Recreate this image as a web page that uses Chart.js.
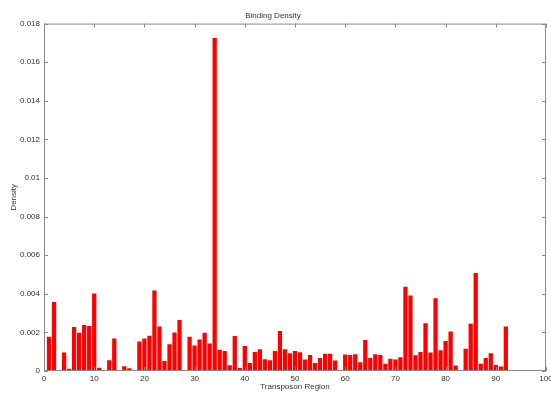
<!DOCTYPE html>
<html lang="en">
<head>
    <meta charset="UTF-8">
    <title>Binding Density</title>
    <script src="https://cdn.jsdelivr.net/npm/chart.js"></script>
    <style>
        html, body { margin: 0; padding: 0; background: #fff; }
        #chart-container { width: 551px; height: 394px; }
    </style>
</head>
<body>
    <div id="chart-container">
        <canvas id="densityChart" width="551" height="394"></canvas>
    </div>

    <script>
        // Transposon region positions
        const regions = [
            1, 2, 3, 4, 5, 6, 7, 8, 9, 10,
            11, 12, 13, 14, 15, 16, 17, 18, 19, 20,
            21, 22, 23, 24, 25, 26, 27, 28, 29, 30,
            31, 32, 33, 34, 35, 36, 37, 38, 39, 40,
            41, 42, 43, 44, 45, 46, 47, 48, 49, 50,
            51, 52, 53, 54, 55, 56, 57, 58, 59, 60,
            61, 62, 63, 64, 65, 66, 67, 68, 69, 70,
            71, 72, 73, 74, 75, 76, 77, 78, 79, 80,
            81, 82, 83, 84, 85, 86, 87, 88, 89, 90,
            91, 92
        ];

        // Binding density per region
        const density = [
            0.00177, 0.00357, 0, 0.00096, 0.00012, 0.00228, 0.00198, 0.00238, 0.00233, 0.00402,
            0.00017, 0, 0.00056, 0.00169, 0, 0.00024, 0.00014, 0, 0.00153, 0.00169,
            0.00183, 0.00417, 0.0023, 0.00052, 0.00139, 0.002, 0.00264, 0, 0.00177, 0.00132,
            0.00163, 0.00198, 0.00143, 0.01725, 0.0011, 0.00104, 0.0003, 0.00181, 0.00016, 0.00129,
            0.00042, 0.00099, 0.00113, 0.00061, 0.00056, 0.00104, 0.00207, 0.00113, 0.00092, 0.00103,
            0.00097, 0.00059, 0.00083, 0.00042, 0.00068, 0.0009, 0.0009, 0.00054, 0, 0.00085,
            0.00083, 0.00087, 0.00045, 0.0016, 0.00068, 0.00087, 0.00083, 0.00038, 0.00064, 0.00059,
            0.00071, 0.00437, 0.00391, 0.00082, 0.00099, 0.00247, 0.00096, 0.00377, 0.00108, 0.00155,
            0.00205, 0.00028, 0, 0.00115, 0.00245, 0.00508, 0.00037, 0.00068, 0.00092, 0.00031,
            0.00023, 0.00231
        ];

        const xTicks = [0, 10, 20, 30, 40, 50, 60, 70, 80, 90, 100];
        const yTicks = [0, 0.002, 0.004, 0.006, 0.008, 0.01, 0.012, 0.014, 0.016, 0.018];

        const font = { family: "'Liberation Sans', Arial, sans-serif", size: 8 };
        const textColor = '#333';

        // MATLAB-like box with inward ticks on all four sides
        const boxPlugin = {
            id: 'boxTicks',
            afterDatasetsDraw(chart) {
                const { ctx, chartArea: { left, right, top, bottom }, scales: { x, y } } = chart;
                ctx.save();
                ctx.strokeStyle = '#8a8a8a';
                ctx.lineWidth = 1;
                ctx.strokeRect(left + 0.5, top + 0.5, right - left - 1, bottom - top - 1);
                ctx.beginPath();
                const len = 4;
                xTicks.forEach(v => {
                    const px = Math.round(x.getPixelForValue(v)) + 0.5;
                    ctx.moveTo(px, bottom); ctx.lineTo(px, bottom - len);
                    ctx.moveTo(px, top); ctx.lineTo(px, top + len);
                });
                yTicks.forEach(v => {
                    const py = Math.round(y.getPixelForValue(v)) + 0.5;
                    ctx.moveTo(left, py); ctx.lineTo(left + len, py);
                    ctx.moveTo(right, py); ctx.lineTo(right - len, py);
                });
                ctx.stroke();
                ctx.restore();
            }
        };

        const ctx = document.getElementById('densityChart').getContext('2d');
        new Chart(ctx, {
            type: 'bar',
            data: {
                datasets: [{
                    data: regions.map((r, i) => ({ x: r, y: density[i] })),
                    backgroundColor: '#ff0000',
                    borderWidth: 0,
                    barPercentage: 0.85,
                    categoryPercentage: 1
                }]
            },
            options: {
                responsive: false,
                animation: false,
                maintainAspectRatio: false,
                layout: { padding: { top: 0, right: 5, bottom: 0, left: 0 } },
                plugins: {
                    legend: { display: false },
                    tooltip: { enabled: false },
                    title: {
                        display: true,
                        text: 'Binding Density',
                        color: textColor,
                        font: { ...font, weight: 'normal' },
                        padding: { top: 11, bottom: 3 }
                    }
                },
                scales: {
                    x: {
                        type: 'linear',
                        min: 0,
                        max: 100,
                        offset: false,
                        afterBuildTicks(scale) { scale.ticks = xTicks.map(v => ({ value: v })); },
                        afterFit(scale) { scale.height = 23; scale.paddingRight = 0; scale.paddingLeft = 0; },
                        grid: { display: true, drawOnChartArea: false, drawTicks: false },
                        border: { display: false },
                        ticks: { color: textColor, font, padding: 3, maxRotation: 0, autoSkip: false },
                        title: { display: true, text: 'Transposon Region', color: textColor, font, padding: { top: 0, bottom: 2 } }
                    },
                    y: {
                        min: 0,
                        max: 0.018,
                        afterBuildTicks(scale) { scale.ticks = yTicks.map(v => ({ value: v })); },
                        afterFit(scale) { scale.width = 44; },
                        grid: { display: true, drawOnChartArea: false, drawTicks: false },
                        border: { display: false },
                        ticks: {
                            color: textColor, font, padding: 4, autoSkip: false,
                            callback: v => v === 0 ? '0' : v.toFixed(3).replace(/0+$/, '').replace(/\.$/, '')
                        },
                        title: { display: true, text: 'Density', color: textColor, font, padding: { top: 9, bottom: 0 } }
                    }
                }
            },
            plugins: [boxPlugin]
        });
    </script>
</body>
</html>
